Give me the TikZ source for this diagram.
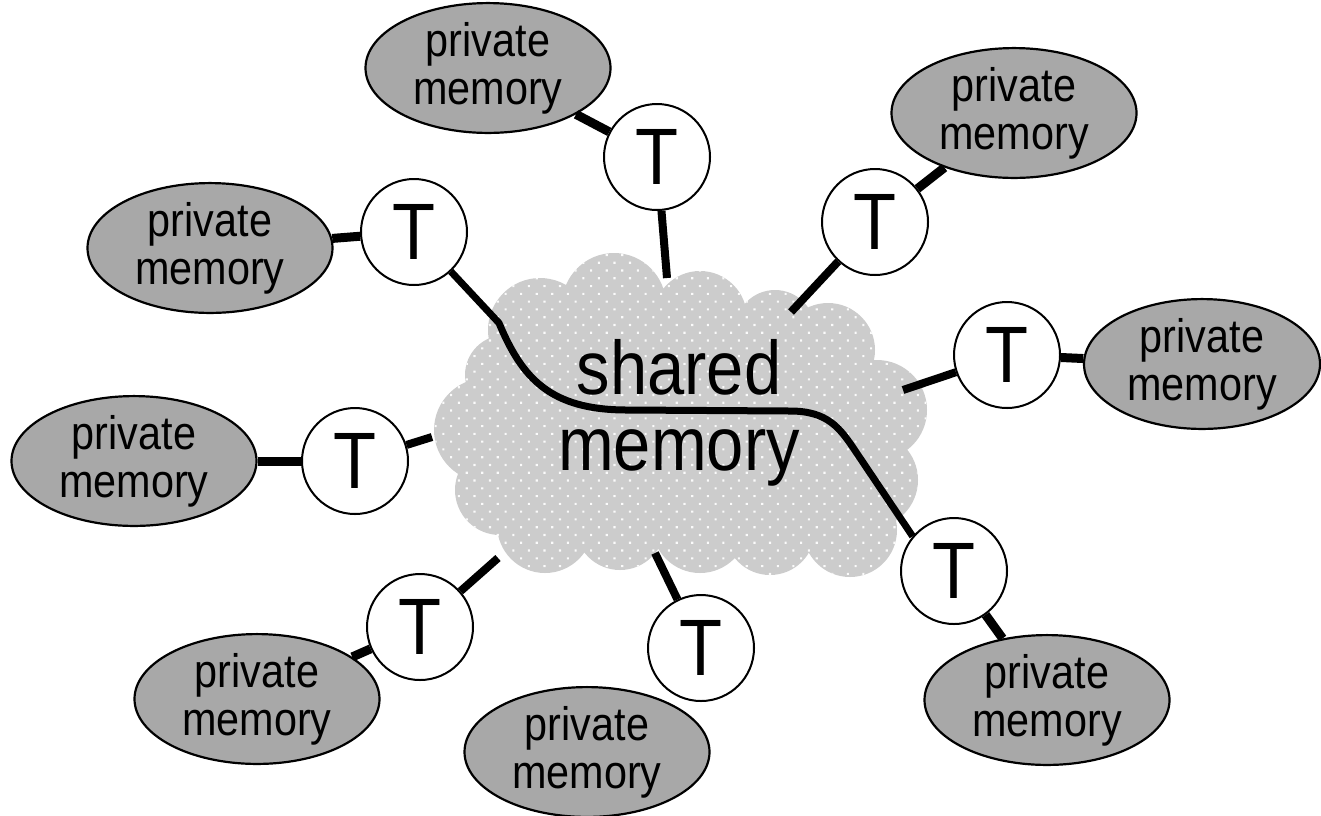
\documentclass[tikz,border=0pt]{standalone}
\usepackage{fontspec}
\setmainfont{Liberation Sans}
\newfontfamily\narrowsans[FakeStretch=0.88]{Liberation Sans}
\usetikzlibrary{shapes.geometric,patterns.meta}
\definecolor{privfill}{RGB}{168,168,168}
\definecolor{cloudfill}{RGB}{204,204,204}
\begin{document}
\begin{tikzpicture}[x=1pt,y=-1pt,
  priv/.style={ellipse, draw=black, line width=2.2pt, fill=privfill,
    minimum width=245pt, minimum height=116pt, inner sep=0pt, align=center,
    font=\narrowsans\fontsize{47}{48}\selectfont},
  thread/.style={circle, draw=black, line width=2pt, fill=white,
    minimum size=106pt, inner sep=0pt,
    font=\narrowsans\fontsize{80}{80}\selectfont},
  link/.style={line width=9pt},
  tie/.style={line width=8pt},
  bus/.style={line width=7pt, line join=round},
  cloudstyle/.style={fill=cloudfill,
    postaction={pattern={Dots[distance=11pt,radius=1.5pt,angle=45]}, pattern color=white!92!cloudfill}},
  bigtext/.style={align=center, inner sep=0pt,
    font=\narrowsans\fontsize{76}{76}\selectfont}
]
\useasboundingbox (0,0) rectangle (1321,815);

% cloud (shared memory)
\path[cloudstyle]
  (540,330) circle[radius=52pt]
  (614,305) circle[radius=52pt]
  (700,318) circle[radius=47pt]
  (775,330) circle[radius=40pt]
  (828,350) circle[radius=47pt]
  (877,410) circle[radius=50pt]
  (870,480) circle[radius=48pt]
  (850,530) circle[radius=47pt]
  (770,530) circle[radius=45pt]
  (700,525) circle[radius=48pt]
  (620,525) circle[radius=45pt]
  (545,525) circle[radius=48pt]
  (500,490) circle[radius=45pt]
  (486,430) circle[radius=52pt]
  (505,375) circle[radius=40pt]
  (690,420) ellipse[x radius=200pt, y radius=110pt];

% cloud edge points
\coordinate (c1) at (667,278);
\coordinate (c2) at (791,312);
\coordinate (c4) at (903,390);
\coordinate (c5) at (432,437);
\coordinate (c6) at (498,558);
\coordinate (c7) at (655,553);

% threads
\node[thread] (T1) at (657,157) {T};
\node[thread] (T2) at (875,222) {T};
\node[thread] (T3) at (414,232) {T};
\node[thread] (T4) at (1007,355) {T};
\node[thread] (T5) at (355,461) {T};
\node[thread] (T6) at (420,627) {T};
\node[thread] (T7) at (701,648) {T};
\node[thread] (T8) at (954,571) {T};

% private memories
\node[priv] (A) at (488,68) {private\\memory};
\node[priv] (B) at (1014,113) {private\\memory};
\node[priv] (C) at (210,248) {private\\memory};
\node[priv, minimum width=236pt] (D) at (1202,364) {private\\memory};
\node[priv] (E) at (134,461) {private\\memory};
\node[priv] (F) at (257,699) {private\\memory};
\node[priv] (G) at (587,752) {private\\memory};
\node[priv] (H) at (1047,700) {private\\memory};

% thread to private memory
\draw[link] (A) -- (T1);
\draw[link] (B) -- (T2);
\draw[link] (C) -- (T3);
\draw[link] (D) -- (T4);
\draw[link] (E) -- (T5);
\draw[link] (F) -- (T6);
\draw[link] (H) -- (T8);

% thread to shared memory
\draw[tie] (T1) -- (c1);
\draw[tie] (T2) -- (c2);
\draw[tie] (T4) -- (c4);
\draw[tie] (T5) -- (c5);
\draw[tie] (T6) -- (c6);
\draw[tie] (T7) -- (c7);

% wire through the cloud
\draw[bus] (T3) -- (499,323) .. controls (522,378) and (550,410) .. (627,410)
  -- (790,411) .. controls (828,411) and (840,428) .. (856,452) -- (T8.140);

\node[bigtext] (S) at (679,413) {shared\\memory};
\end{tikzpicture}
\end{document}
